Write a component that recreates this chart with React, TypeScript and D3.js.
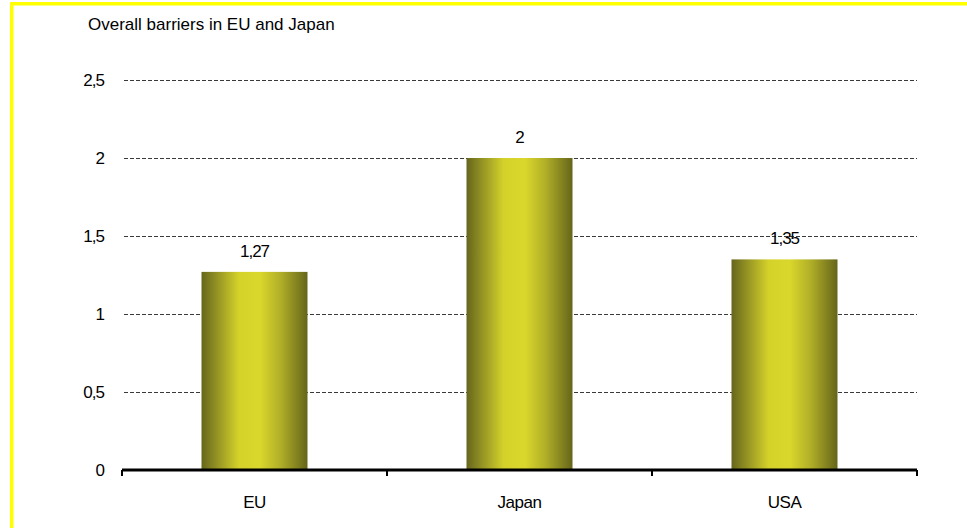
import React from "react";
import * as d3 from "d3";

const categories = ["EU", "Japan", "USA"];
const values = [1.27, 2, 1.35];
const valueLabels = ["1,27", "2", "1,35"];
const yTicks = [0, 0.5, 1, 1.5, 2, 2.5];
const yTickLabels = ["0", "0,5", "1", "1,5", "2", "2,5"];
const title = "Overall barriers in EU and Japan";

const W = 967;
const H = 528;
const plotLeft = 122;
const plotRight = 917;
const plotTop = 80;
const plotBottom = 470;
const font = "'Liberation Sans', Arial, sans-serif";

export default function App() {
  const x = d3
    .scaleBand<string>()
    .domain(categories)
    .range([plotLeft, plotRight])
    .paddingInner(0.6)
    .paddingOuter(0.3);
  const y = d3.scaleLinear().domain([0, 2.5]).range([plotBottom, plotTop]);
  const step = x.step();
  const boundaries = d3.range(categories.length + 1).map((i) => plotLeft + i * step);

  return (
    <svg
      width={W}
      height={H}
      viewBox={`0 0 ${W} ${H}`}
      style={{ position: "absolute", left: 0, top: 0, background: "#fff" }}
    >
      <defs>
        <linearGradient id="barGrad" x1="0" x2="1" y1="0" y2="0">
          <stop offset="0" stopColor="#66661c" />
          <stop offset="0.15" stopColor="#959424" />
          <stop offset="0.35" stopColor="#d4d12a" />
          <stop offset="0.55" stopColor="#dad72c" />
          <stop offset="0.75" stopColor="#b0ae27" />
          <stop offset="1" stopColor="#65651b" />
        </linearGradient>
      </defs>
      {/* yellow frame */}
      <rect x={10} y={2} width={W - 10} height={3.5} fill="#ffff00" />
      <rect x={10} y={2} width={3.5} height={H - 2} fill="#ffff00" />

      <text x={88} y={30} fontFamily={font} fontSize={17} fill="#000">
        {title}
      </text>

      {/* gridlines */}
      {yTicks.slice(1).map((t) => (
        <line
          key={"g" + t}
          x1={plotLeft + 2}
          x2={plotRight}
          y1={Math.round(y(t)) + 0.5}
          y2={Math.round(y(t)) + 0.5}
          stroke="#3a3a3a"
          strokeWidth={1}
          strokeDasharray="4,2"
        />
      ))}
      {yTicks.map((t, i) => (
        <text
          key={"yl" + t}
          x={104}
          y={y(t) + 6}
          textAnchor="end"
          fontFamily={font}
          fontSize={17}
          letterSpacing={-1}
          fill="#000"
        >
          {yTickLabels[i]}
        </text>
      ))}

      {/* bars */}
      {categories.map((c, i) => (
        <rect
          key={"b" + c}
          x={x(c)}
          y={y(values[i])}
          width={x.bandwidth()}
          height={plotBottom - y(values[i])}
          fill="url(#barGrad)"
        />
      ))}
      {categories.map((c, i) => (
        <text
          key={"v" + c}
          x={(x(c) as number) + x.bandwidth() / 2}
          y={y(values[i]) - 15}
          textAnchor="middle"
          fontFamily={font}
          fontSize={17}
          letterSpacing={-1}
          fill="#000"
        >
          {valueLabels[i]}
        </text>
      ))}

      {/* x axis */}
      <line x1={plotLeft} x2={plotRight} y1={plotBottom} y2={plotBottom} stroke="#000" strokeWidth={3} />
      {boundaries.map((b, i) => (
        <line key={"t" + i} x1={b} x2={b} y1={plotBottom} y2={plotBottom + 6} stroke="#000" strokeWidth={2} />
      ))}
      {categories.map((c) => (
        <text
          key={"xl" + c}
          x={(x(c) as number) + x.bandwidth() / 2}
          y={508}
          textAnchor="middle"
          fontFamily={font}
          fontSize={17}
          letterSpacing={-0.5}
          fill="#000"
        >
          {c}
        </text>
      ))}
    </svg>
  );
}
